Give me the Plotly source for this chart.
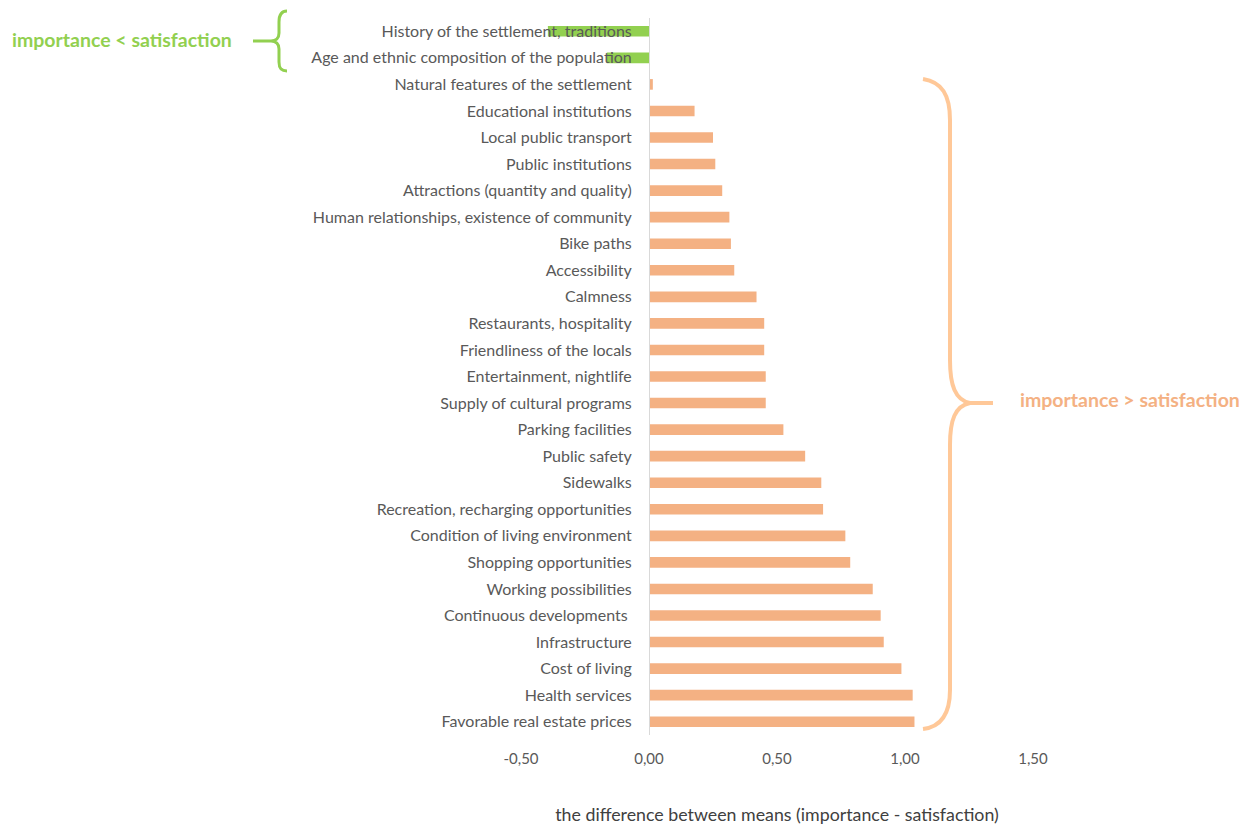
import plotly.graph_objects as go

categories = [
    "History of the settlement, traditions",
    "Age and ethnic composition of the population",
    "Natural features of the settlement",
    "Educational institutions",
    "Local public transport",
    "Public institutions",
    "Attractions (quantity and quality)",
    "Human relationships, existence of community",
    "Bike paths",
    "Accessibility",
    "Calmness",
    "Restaurants, hospitality",
    "Friendliness of the locals",
    "Entertainment, nightlife",
    "Supply of cultural programs",
    "Parking facilities",
    "Public safety",
    "Sidewalks",
    "Recreation, recharging opportunities",
    "Condition of living environment",
    "Shopping opportunities",
    "Working possibilities",
    "Continuous developments ",
    "Infrastructure",
    "Cost of living",
    "Health services",
    "Favorable real estate prices",
]
differences = [
    -0.395, -0.165, 0.015, 0.178, 0.250, 0.259, 0.286, 0.314, 0.320, 0.333,
    0.420, 0.450, 0.450, 0.456, 0.456, 0.525, 0.610, 0.673, 0.680, 0.767,
    0.786, 0.874, 0.905, 0.917, 0.986, 1.030, 1.037,
]
x_tickvals = [-0.5, 0.0, 0.5, 1.0, 1.5]
x_ticktext = ["-0,50", "0,00", "0,50", "1,00", "1,50"]

GREEN = "#92D050"
ORANGE = "#F4B183"
BRACE_ORANGE = "#FFC898"
FONT = "Lato"

W, H = 1251, 825
ML, MR, MT, MB = 521, 218, 18, 90
PW, PH = W - ML - MR, H - MT - MB


def px(x, y):
    return (x - ML) / PW, (MT + PH - y) / PH


def path(cmds):
    out = []
    for c in cmds:
        if isinstance(c, str):
            out.append(c)
        else:
            xp, yp = px(*c)
            out.append(f"{xp:.5f},{yp:.5f}")
    return " ".join(out)


colors = [GREEN if v < 0 else ORANGE for v in differences]

fig = go.Figure(
    go.Bar(
        x=differences,
        y=categories,
        orientation="h",
        marker=dict(color=colors, line=dict(width=0)),
        width=0.4,
        hoverinfo="x+y",
    )
)

green_brace = path([
    "M", (287, 11), "C", (281, 11), (279, 15), (279, 22), "L", (279, 33),
    "C", (279, 38), (276, 41), (271, 41), "C", (276, 41), (279, 44), (279, 49),
    "L", (279, 62), "C", (279, 68), (281, 71), (287, 71),
    "M", (271, 41), "L", (253, 41),
])
orange_brace = path([
    "M", (923, 79), "C", (942, 82), (950, 95), (950, 120), "L", (950, 360),
    "C", (950, 385), (955, 400), (970, 403), "C", (955, 406), (950, 420), (950, 445),
    "L", (950, 690), "C", (950, 715), (940, 727), (923, 729),
    "M", (970, 403), "L", (993, 403),
])

fig.add_shape(type="path", path=green_brace, xref="paper", yref="paper",
              line=dict(color=GREEN, width=3))
fig.add_shape(type="path", path=orange_brace, xref="paper", yref="paper",
              line=dict(color=BRACE_ORANGE, width=4))

gx, gy = px(122, 40)
ox, oy = px(1130, 400)
fig.add_annotation(x=gx, y=gy, xref="paper", yref="paper", showarrow=False,
                   text="<b>importance &lt; satisfaction</b>", xanchor="center", yanchor="middle",
                   font=dict(family=FONT, size=19.5, color=GREEN))
fig.add_annotation(x=ox, y=oy, xref="paper", yref="paper", showarrow=False,
                   text="<b>importance &gt; satisfaction</b>", xanchor="center", yanchor="middle",
                   font=dict(family=FONT, size=19.5, color=ORANGE))

fig.update_layout(
    width=W, height=H,
    margin=dict(l=ML, r=MR, t=MT, b=MB, pad=0, autoexpand=False),
    plot_bgcolor="white", paper_bgcolor="white",
    showlegend=False,
    font=dict(family=FONT, size=14, color="#595959"),
    xaxis=dict(
        range=[-0.5, 1.5],
        automargin=False,
        tickvals=x_tickvals, ticktext=x_ticktext,
        showgrid=False, zeroline=False, showline=False,
        ticks="", ticklabelstandoff=13,
        tickfont=dict(family=FONT, size=15, color="#595959"),
        title=dict(text="the difference between means (importance - satisfaction)",
                   standoff=44, font=dict(family=FONT, size=17.8, color="#404040")),
    ),
    yaxis=dict(
        autorange="reversed",
        automargin=False,
        anchor="free", position=0.25,
        showline=True, linecolor="#D9D9D9", linewidth=1,
        showgrid=False, zeroline=False,
        ticks="", ticklabelstandoff=14,
        tickfont=dict(family=FONT, size=16, color="#595959"),
    ),
)

fig.write_html("out.html", config={"displayModeBar": False})
